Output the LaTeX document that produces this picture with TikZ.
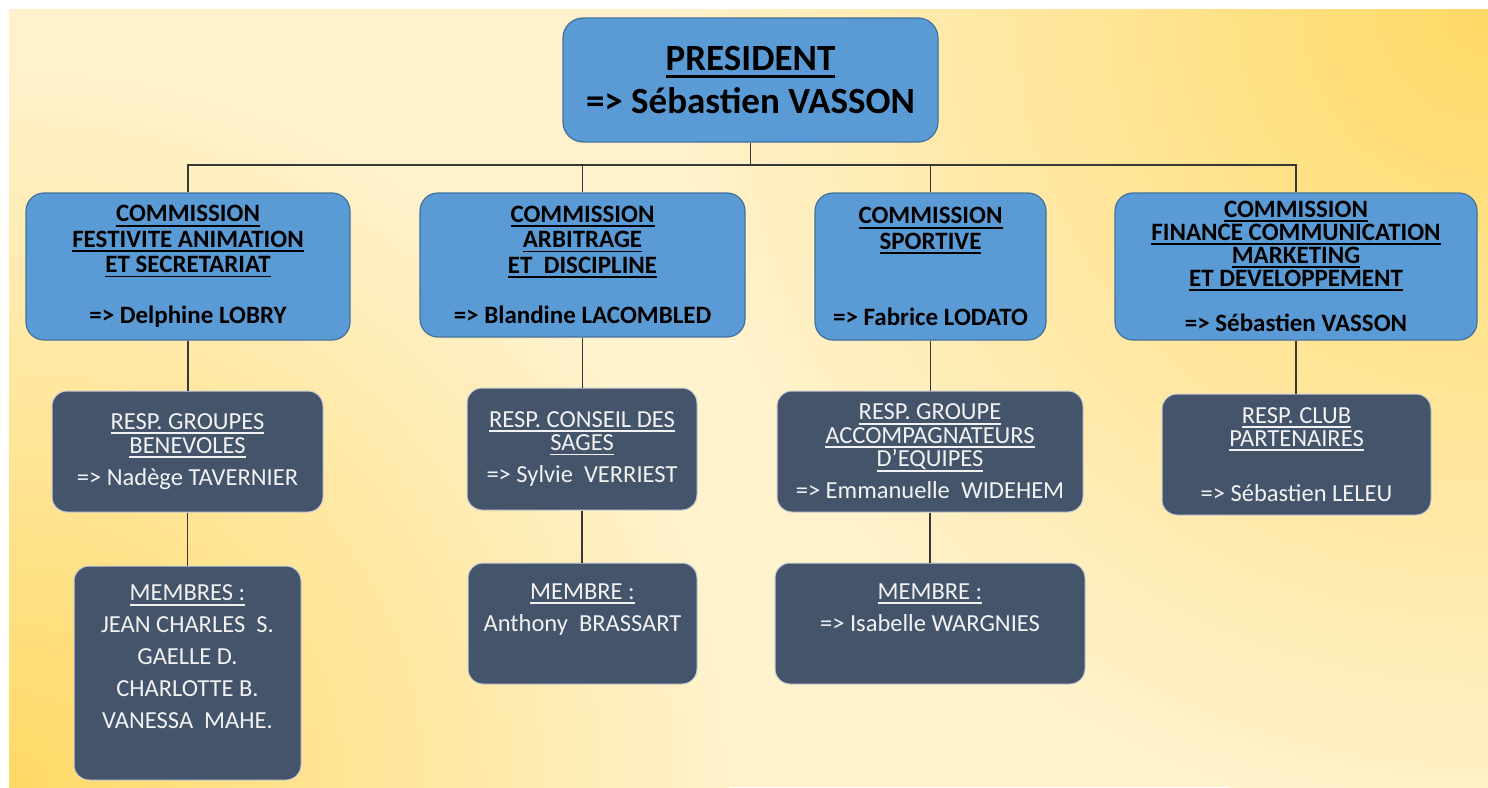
\documentclass[tikz,border=0pt]{standalone}
\usepackage{fontspec}
\setmainfont{Carlito}
\definecolor{cblue}{HTML}{5B9BD5}
\definecolor{cblueb}{HTML}{41719C}
\definecolor{dslate}{HTML}{44546A}
\definecolor{dslateb}{HTML}{C9CDD3}
\definecolor{gold}{HTML}{FFD966}
\definecolor{cream}{HTML}{FFF2CC}
\definecolor{linec}{HTML}{383838}
\definecolor{ltext}{HTML}{F2F2F2}
\newcommand{\uln}[1]{\setbox0\hbox{#1}\rlap{\rule[-0.19em]{\wd0}{0.075em}}\box0}
\begin{document}
\begin{tikzpicture}[x=1pt,y=1pt,
  pres/.style={draw=cblueb, line width=1.2pt, fill=cblue, rounded corners=20pt, align=center, inner sep=0pt, text=black, font=\bfseries\fontsize{37}{43}\selectfont},
  comm/.style={draw=cblueb, line width=1.2pt, fill=cblue, rounded corners=18pt, align=center, inner sep=0pt, text=black, font=\bfseries\fontsize{25}{25.4}\selectfont},
  dark/.style={draw=dslateb, line width=1pt, fill=dslate, rounded corners=15pt, align=center, inner sep=0pt, text=ltext, font=\fontsize{24.5}{23.5}\selectfont},
  link/.style={draw=linec, line width=1.4pt}]
\useasboundingbox (0,0) rectangle (1488,-787);
\begin{scope}
  \clip (9,-9) rectangle (1488,-787);
  \fill[cream] (9,-9) rectangle (1488,-787);
  \shade[inner color=gold, outer color=cream] (1488,-9) circle (820);
  \shade[inner color=gold, outer color=cream] (9,-787) circle (720);
\end{scope}

\node[pres, minimum width=375pt, minimum height=124pt] (pres) at (750.5,-80)
  {\uln{PRESIDENT}\\ => Sébastien VASSON};

\node[comm, minimum width=324pt, minimum height=147pt] (c1) at (188,-266.5)
  {\uln{COMMISSION}\\ \uln{FESTIVITE ANIMATION}\\ \uln{ET SECRETARIAT}\\[25.4pt] => Delphine LOBRY};
\node[comm, minimum width=325pt, minimum height=144pt] (c2) at (582.5,-265)
  {\uln{COMMISSION}\\ \uln{ARBITRAGE}\\ \uln{ET~ DISCIPLINE}\\[25.4pt] => Blandine LACOMBLED};
\node[comm, minimum width=231pt, minimum height=147pt] (c3) at (930.5,-266.5)
  {\uln{COMMISSION}\\ \uln{SPORTIVE}\\[50.8pt] => Fabrice LODATO};
\node[comm, minimum width=362pt, minimum height=147pt, font=\bfseries\fontsize{25}{22.8}\selectfont] (c4) at (1296,-266.5)
  {\uln{COMMISSION}\\ \uln{FINANCE COMMUNICATION}\\ \uln{MARKETING}\\ \uln{ET DEVELOPPEMENT}\\[22.8pt] => Sébastien VASSON};

\node[dark, minimum width=271pt, minimum height=121pt] (r1) at (187.5,-451.5)
  {\uln{RESP. GROUPES}\\ \uln{BENEVOLES}\\[8.5pt] => Nadège TAVERNIER};
\node[dark, minimum width=230pt, minimum height=122pt] (r2) at (582,-449)
  {\uln{RESP. CONSEIL DES}\\ \uln{SAGES}\\[8.5pt] => Sylvie~ VERRIEST};
\node[dark, minimum width=306pt, minimum height=121pt] (r3) at (930,-451.5)
  {\uln{RESP. GROUPE}\\ \uln{ACCOMPAGNATEURS}\\ \uln{D'EQUIPES}\\[8.5pt] => Emmanuelle~ WIDEHEM};
\node[dark, minimum width=269pt, minimum height=121pt] (r4) at (1296.5,-454.5)
  {\uln{RESP. CLUB}\\ \uln{PARTENAIRES}\\[31.5pt] => Sébastien LELEU};

\node[dark, minimum width=227pt, minimum height=214pt, font=\fontsize{24.5}{32}\selectfont] (m1) at (187.5,-673)
  {\uln{MEMBRES :}\\ JEAN CHARLES~ S.\\ GAELLE D.\\ CHARLOTTE B.\\ VANESSA~ MAHE.\\ \mbox{}};
\node[dark, minimum width=229pt, minimum height=121pt, font=\fontsize{24.5}{32}\selectfont] (m2) at (582.5,-623.5)
  {\uln{MEMBRE :}\\ Anthony~ BRASSART\\ \mbox{}};
\node[dark, minimum width=310pt, minimum height=121pt, font=\fontsize{24.5}{32}\selectfont] (m3) at (930,-623.5)
  {\uln{MEMBRE :}\\ => Isabelle WARGNIES\\ \mbox{}};

\coordinate (bus) at (750,-165);
\draw[link] (pres.south) -- (pres.south |- bus);
\draw[link] (c1.north) -- (c1.north |- bus) -- (c4.north |- bus) -- (c4.north);
\draw[link] (c2.north) -- (c2.north |- bus);
\draw[link] (c3.north) -- (c3.north |- bus);

\draw[link] (c1.south) -- (c1.south |- r1.north);
\draw[link] (c2.south) -- (c2.south |- r2.north);
\draw[link] (c3.south) -- (c3.south |- r3.north);
\draw[link] (c4.south) -- (c4.south |- r4.north);

\draw[link] (r1.south) -- (r1.south |- m1.north);
\draw[link] (r2.south) -- (r2.south |- m2.north);
\draw[link] (r3.south) -- (r3.south |- m3.north);
\end{tikzpicture}
\end{document}
